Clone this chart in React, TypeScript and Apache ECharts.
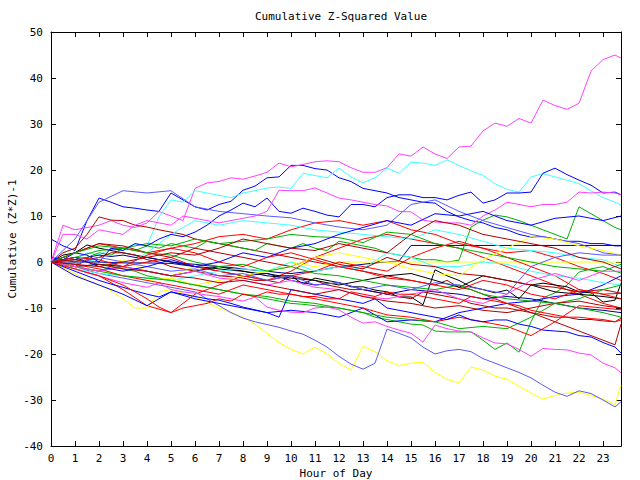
import React, { useEffect, useRef } from "react";
import * as echarts from "echarts";

// ---- Data ----
const HOURS = [0,1,2,3,4,5,6,7,8,9,10,11,12,13,14,15,16,17,18,19,20,21,22,23,23.75];
const HALF_HOURS = [0,0.5,1,1.5,2,2.5,3,3.5,4,4.5,5,5.5,6,6.5,7,7.5,8,8.5,9,9.5,10,10.5,11,11.5,12,12.5,13,13.5,14,14.5,15,15.5,16,16.5,17,17.5,18,18.5,19,19.5,20,20.5,21,21.5,22,22.5,23,23.5,23.75];
const X_TICKS = [0,1,2,3,4,5,6,7,8,9,10,11,12,13,14,15,16,17,18,19,20,21,22,23];

// half-hour series
const M1 = [0,8,7,7.5,8,9,8,7.5,8.5,11,10,9,16,17.2,17.5,18.3,18,18.7,19.5,21.5,20.7,21.2,21.8,22,21.8,20.5,19.5,19.5,20.5,23.5,23,25,23.5,22.5,25,25.2,28.5,30.2,29.5,31.2,30.2,35.2,34,33.2,34.5,41.5,44,45,44.3];
const Y1 = [0,-1.2,-2.5,-4,-5,-6.2,-8,-10,-10,-6.5,-6,-6.8,-7.5,-8.8,-10,-11,-12,-13.5,-15.5,-17.5,-19,-20,-18.5,-20,-22,-23.5,-18.3,-19.5,-21.5,-22.5,-22,-21.8,-24,-25.5,-26.3,-22.8,-23.5,-24.8,-25.5,-27,-28.5,-29.8,-29,-28.5,-28.3,-29,-29.8,-31,-26.8];
const LB1 = [0,-0.5,-1,-1.8,-2.5,-3,-3.5,-4,-4.5,-5,-5.5,-6,-6.5,-8,-9.5,-11,-12.2,-13,-13.6,-14.2,-15,-15.7,-17,-18.5,-20.5,-22.2,-23.3,-22,-14.6,-15.5,-16.5,-18.5,-20,-19.3,-19,-19.5,-21,-22,-23,-24,-25.2,-26.8,-28.3,-29.2,-28,-28.6,-30,-31.5,-30.4];
const C1 = [0,1,0.5,2,1.5,3,2.5,4,3.5,9.8,13.5,13,15.5,15,14.5,14,15,15.5,16.1,16.3,16,19.3,18.8,18.3,20.4,18.5,17.2,18.3,20.4,19.3,21.7,21.5,21,22.2,21,19.8,18.8,17,15.8,15.2,18.5,19.2,18.5,17.8,17,15.5,14,13,12.4];
const B1 = [5,3.5,2.5,9,13.9,13,12,11.7,11.3,11,15,13.5,12,11.3,12.5,13.2,15.6,16.5,18.3,18.5,21,21,20.3,20,18.3,17.5,16,15.5,15,14,13.5,13,12.8,11,9.8,9,8.5,7.5,7,6,5.4,5.5,5,4.5,4.5,4,4,3.5,3.5];
const B3 = [1,0.5,2,1.5,0,3,2.5,4,3.5,5,6,5.5,6.5,8,10,11.3,12.8,12,13.9,11,10.6,11.7,11,10.2,9.8,12.5,12.5,12,14,14.6,14.6,14,14,13.5,14.5,15.2,12.8,13.5,15,15,15.2,19.3,20.4,19,17.8,16.7,15,15.2,14.6];
const M3 = [0,6,6,5,7,6.5,6,8,9,8.5,8,10,9.5,9,8.5,9,9.5,10,11,15.6,15.5,15.5,16.1,15,13.9,13.5,13,12.5,12.2,11,10.9,9.1,8.7,8.5,8.5,8,10,11.3,13,12.5,12,12.5,12.5,13,15.2,15,15.2,15,14.6];
const D1 = [0,2,3,6,9.8,9.1,9,8,7.6,7,6.5,6,5,4.5,4,3.5,3,2.5,2,1.5,1,0.5,0,-0.5,-1,-1.5,-2,-2.5,-3,-3.5,-4,-4.5,-5,-4,-5.5,-6,-7,-8,-9,-10,-11,-12,-13,-14,-15,-16,-17,-18,-13.5];
const G2 = [0,0.5,0,1,2,1.5,3,2.5,3.5,3,4,3.5,3,4.5,4,3.5,3,2.5,4,3.5,3,4,3,2.5,4.5,4,3.5,3,2,1.5,1,0.5,0.5,0,0.4,7.6,9.1,10.2,9.8,9,8,7,6,5,12,10.5,9,7.5,7];
const M2 = [0,-0.8,-1.5,-2.3,-3,-3.8,-4.5,-5,-5.5,-4.5,-6,-6.5,-6.8,-7.2,-7.5,-8,-8.5,-7.6,-9.8,-10.5,-10.9,-11,-10,-9.8,-10.4,-12,-13.3,-13,-14,-14.8,-15.5,-17.4,-13.7,-14.5,-15,-15.2,-16.5,-17.6,-17.8,-19,-20.5,-18.8,-19,-19.1,-19.8,-20.2,-22,-23,-24.1];
const B4 = [0,-1,-2,-3,-4,-4.8,-5.5,-6.3,-7,-7.6,-6.5,-7,-7.5,-8,-8.3,-9,-9.8,-10.4,-11,-12,-6,-6.5,-7,-7.5,-8,-8.5,-9,-8,-10,-10.5,-11,-11.5,-12,-12.5,-11.5,-12.6,-13,-12.6,-12.6,-13.5,-14,-14.8,-15,-15.2,-16,-16.3,-17.5,-18.5,-19.8];
const G1 = [0,-0.5,-1,-1.5,-2,-1,-1.5,-2,-3,-3.5,-4,-4.5,-5,-5.5,-6,-6.5,-7,-7.5,-8,-8.5,-9,-9.2,-9.5,-9.8,-10,-10.5,-11,-12,-12.5,-13,-13.5,-13.7,-15,-15.2,-15.2,-15.2,-17,-19,-17.6,-19.6,-13,-7.8,-6.7,-5,-2.2,-1.5,-1,-2,-2.4];
const K1 = [0,1.5,2,3.7,3,2.5,2,1.5,1,0.5,0,-0.5,-1,-1.2,-1.5,-1.8,-2,-2.4,-2.5,-3,-3,-4.8,-3.5,-4,-4.5,-5.4,-5.4,-6.1,-6.5,-7.6,-7.6,-9.3,-1.7,-3,-4,-5.4,-6,-6.7,-6.1,-8,-5,-4.6,-5,-5.4,-6.5,-6.7,-8.7,-8.3,-4.6];
const R5 = [0,-0.8,-1.5,-2.3,-3,-4,-5,-6.5,-8,-9.8,-11,-10,-9.5,-9,-8,-8.5,-7,-7.5,-6.5,-7,-7,-7.5,-7.5,-8,-8,-6.5,-7,-7.5,-6.5,-7,-7,-7.5,-8,-8.5,-9,-7.5,-8,-8.5,-9,-9.5,-10.5,-11,-11.5,-12,-12,-12.3,-12.5,-13,-12.6];
const D2 = [0,-0.5,-1,0.5,1,2,2,1.5,0.5,0,-1,-1.5,-2,-2.5,-3,-3.2,-3.5,-4,-4,-4.5,-3,-3.5,-4,-5,-5.5,-6,-6,-6.5,-7,-7.5,-8,-6.5,-7,-7.5,-8,-9,-9.5,-10,-10,-10.5,-11,-11.5,-12,-12,-12.5,-12.5,-12.8,-13,-12.2];
const N1 = [0,0.3,0.5,1,1.5,1.2,1.5,1,1,0.5,0,-0.3,-0.5,-0.8,-1,-1.2,-1.5,-1.8,-2,-2.3,-2.5,-2.2,-2,-1.5,-1,-0.8,-0.5,-0.2,0,0.2,3.6,3.6,3.6,3.6,3.6,3.6,3.6,3.6,3.6,3.6,3.6,3.6,3.6,3.6,3.6,3.6,3.6,3.6,3.6];

// hourly series
const M4 = [0,-1,-2,-1,-2,-3,-2,-3.5,-4,-5,-4,-5.5,-6,-7.5,-8,-7,-6,-8,-9,-7,-4,-2.5,-4,-2,-2];
const B2 = [0,-3,-5,-7,-9.5,-6.5,-8,-9,-10,-11,-10.5,-11,-12,-10,-13,-12.6,-13,-11,-10,-9,-8.5,-7.5,-7,-5,-3];
const B5 = [0,1,-1,-2,-1,0.5,-1,0,2,1,3,4,6,7.5,9,8,10.5,10,11,9,8,9.5,10,9,10];
const LB2 = [0,5,13,15.5,15,15.5,12,11,10.5,10,9.6,8.5,7.6,7,8,12.5,13.5,11,9,7.5,6,5,4,2,1.5];
const LB3 = [0,-0.5,1,0,-1,-2,-1.5,-3,-2.5,-4,-3,-5,-4.5,-6,-5,-6,-4.5,-5,-6,-7,-1,1,2,1.5,1.5];
const N2 = [0,0,0,-0.2,-0.2,-0.3,-1,-2,-3,-2.5,-4,-5,-4.5,-6,-7,-6,-6.5,-7,-8,-7.5,-8,-9,-10,-10.5,-11];
const C2 = [0,1,0,-1,2,6,9,8,9,8.5,8,7,6.5,6,5.5,5,7,6,4.5,3,2.5,2,1,0.5,-1];
const C3 = [0,-1.5,-2.5,-3,-3.5,-4,-3,-2,-1.5,-2,0,-2,-1,-1.5,2,1,-1,-1,0,-0.5,-2,-3,-3.5,-4.5,-5];
const G3 = [0,1,2.5,3,4,3.5,5,4,4.5,5,6,5.5,5.3,4.2,6.5,6,4,3,2,1,0,-1,-1.5,-2,-0.5];
const G4 = [0,-1,-2,-3,-3.5,-4,-5,-6,-7,-7.5,-8.5,-9,-10,-11,-12,-12.5,-13,-14.5,-14,-14.5,-12,-9,-8,-6,-5];
const G5 = [0,2,3.5,3,2,1.5,0,-1,-0.5,-2,-1,-2.5,-3,-4,-5,-5.5,-6,-5,-7,-8,-8.5,-9,-10,-11,-12];
const R1 = [0,-1.5,-3,-6,-9.5,-11,-7,-5,-3,-4,-2,1,3,5,6,5,4,3,1,-1,-3,-5,-7,-9,-10];
const R2 = [0,2,4,3,2,3,4,5.5,6,5,7,8.5,9,8,9,7,6,4,3,2,2.5,1,-1,-2.5,-4];
const R3 = [0,-1,-2,-1,0,1,-1,-2,-3,-4,-3,-2,0,-1,-2,1,3,4.5,3,1,-1,-3,-6,-7,-6.8];
const R4 = [0,-0.5,-1.5,-3,-4,-5,-6,-7,-5,-6,-7,-8,-9,-10,-11.5,-12,-13,-12,-13,-14,-16,-13,-9.5,-10,-10.4];
const R6 = [0,1,0.5,-1,1.5,3,2,0,-1,1,2,0.5,-1,-2,-3.5,-4,-5,-6,-4,-5,-7,-8,-6,-7,-8];
const D3 = [0,2,4,3.5,2,1,3,2,1,0,-1,1,-0.5,-1.5,1,-0.5,-1,-2.5,-3,-4,-5,-5.5,-6.5,-6,-6.8];
const D4 = [0,0.5,-0.5,-1.5,-2,-3,-3.5,-4.5,-4,-5,-6,-7,-6,-7.5,-8.5,-9,-10,-9.5,-10.5,-11,-10,-9,-8.5,-9.5,-10];
const D5 = [0,-0.5,-1,0,1,2,1.5,3,5,4,3,2.5,4,3,2,6,9,8,6,5,4,3,1,0,-1.5];
const Y2 = [0,1,-1,0.5,-2,-3,-1,-2,-3,-2,0,-1,0,0,0,0,0,0,0,0,0,0,0,0,0];
const Y3 = [0,-1,-2,-3,-4,-3.5,-5,-4,-3,-2,-1,1,2,1,0,-1.5,-2.5,-3,0.5,3,5.5,5,3.5,2.5,1.5];
const K2 = [0,-1,-0.5,-1,-2,-3,-2,-1,-2,-3,-3.5,-4,-5,-4,-3,-2.5,-4,-5.5,-3,-4,-5,-6.5,-7,-7.5,-8];

// ---- Styles ----
const RED = "#ff0000";
const GREEN = "#00b000";
const BLUE = "#0000ff";
const MAGENTA = "#ff40ff";
const CYAN = "#40ffff";
const DARKRED = "#b00000";
const YELLOW = "#ffff00";
const BLACK = "#000000";
const LIGHTBLUE = "#5a5aff";
const NAVY = "#000090";

const LINES: { x: number[]; y: number[]; color: string }[] = [
  { x: HOURS, y: R1, color: RED },
  { x: HALF_HOURS, y: G1, color: GREEN },
  { x: HALF_HOURS, y: B1, color: BLUE },
  { x: HALF_HOURS, y: M1, color: MAGENTA },
  { x: HALF_HOURS, y: C1, color: CYAN },
  { x: HALF_HOURS, y: D1, color: DARKRED },
  { x: HALF_HOURS, y: Y1, color: YELLOW },
  { x: HALF_HOURS, y: K1, color: BLACK },
  { x: HALF_HOURS, y: LB1, color: LIGHTBLUE },
  { x: HALF_HOURS, y: N1, color: NAVY },
  { x: HOURS, y: R2, color: RED },
  { x: HALF_HOURS, y: G2, color: GREEN },
  { x: HOURS, y: B2, color: BLUE },
  { x: HALF_HOURS, y: M2, color: MAGENTA },
  { x: HOURS, y: C2, color: CYAN },
  { x: HALF_HOURS, y: D2, color: DARKRED },
  { x: HOURS, y: Y2, color: YELLOW },
  { x: HOURS, y: K2, color: BLACK },
  { x: HOURS, y: LB2, color: LIGHTBLUE },
  { x: HOURS, y: N2, color: NAVY },
  { x: HOURS, y: R3, color: RED },
  { x: HOURS, y: G3, color: GREEN },
  { x: HALF_HOURS, y: B3, color: BLUE },
  { x: HALF_HOURS, y: M3, color: MAGENTA },
  { x: HOURS, y: C3, color: CYAN },
  { x: HOURS, y: D3, color: DARKRED },
  { x: HOURS, y: Y3, color: YELLOW },
  { x: HOURS, y: LB3, color: LIGHTBLUE },
  { x: HOURS, y: R4, color: RED },
  { x: HOURS, y: G4, color: GREEN },
  { x: HALF_HOURS, y: B4, color: BLUE },
  { x: HOURS, y: M4, color: MAGENTA },
  { x: HOURS, y: D4, color: DARKRED },
  { x: HALF_HOURS, y: R5, color: RED },
  { x: HOURS, y: G5, color: GREEN },
  { x: HOURS, y: B5, color: BLUE },
  { x: HOURS, y: D5, color: DARKRED },
  { x: HOURS, y: R6, color: RED },
];

const FONT = "'DejaVu Sans Mono', monospace";

export default function App() {
  const ref = useRef<HTMLDivElement>(null);
  useEffect(() => {
    document.body.style.margin = "0";
    if (!ref.current) return;
    const chart = echarts.init(ref.current, undefined, { renderer: "svg" });
    const xLabel = (v: number) => (X_TICKS.includes(v) ? String(v) : "");
    const axisCommon = {
      axisLine: { show: true, onZero: false, lineStyle: { color: "#000", width: 1 } },
      axisTick: { show: true, inside: true, length: 5, lineStyle: { color: "#000" } },
      splitLine: { show: false },
    };
    chart.setOption({
      animation: false,
      backgroundColor: "#fff",
      title: {
        text: "Cumulative Z-Squared Value",
        left: 336,
        top: 6,
        textAlign: "center",
        textStyle: { fontFamily: FONT, fontSize: 11, fontWeight: "normal", color: "#000" },
      },
      grid: { left: 51, right: 19, top: 32, bottom: 34, containLabel: false, outerBoundsMode: "none" },
      xAxis: [
        {
          type: "value", min: 0, max: 23.75, interval: 1, position: "bottom",
          ...axisCommon,
          axisLabel: { formatter: xLabel, fontFamily: FONT, fontSize: 11, color: "#000", margin: 7, showMaxLabel: false },
          name: "Hour of Day", nameLocation: "middle", nameGap: 22, nameMoveOverlap: false,
          nameTextStyle: { fontFamily: FONT, fontSize: 11, color: "#000" },
        },
        {
          type: "value", min: 0, max: 23.75, interval: 1, position: "top",
          ...axisCommon,
          axisLabel: { show: false },
        },
      ],
      yAxis: [
        {
          type: "value", min: -40, max: 50, interval: 10, position: "left",
          ...axisCommon,
          axisLabel: { fontFamily: FONT, fontSize: 11, color: "#000", margin: 8 },
          name: "Cumulative (Z*Z)-1", nameLocation: "middle", nameGap: 33, nameRotate: 90, nameMoveOverlap: false,
          nameTextStyle: { fontFamily: FONT, fontSize: 11, color: "#000" },
        },
        {
          type: "value", min: -40, max: 50, interval: 10, position: "right",
          ...axisCommon,
          axisLabel: { show: false },
        },
      ],
      series: LINES.map((l) => ({
        type: "line",
        xAxisIndex: 0,
        yAxisIndex: 0,
        data: l.x.map((h, i) => [h, l.y[i]]),
        showSymbol: false,
        symbol: "none",
        silent: true,
        clip: true,
        lineStyle: { color: l.color, width: 1 },
        itemStyle: { color: l.color },
      })),
    });
    return () => chart.dispose();
  }, []);
  return <div ref={ref} style={{ width: 640, height: 480 }} />;
}
